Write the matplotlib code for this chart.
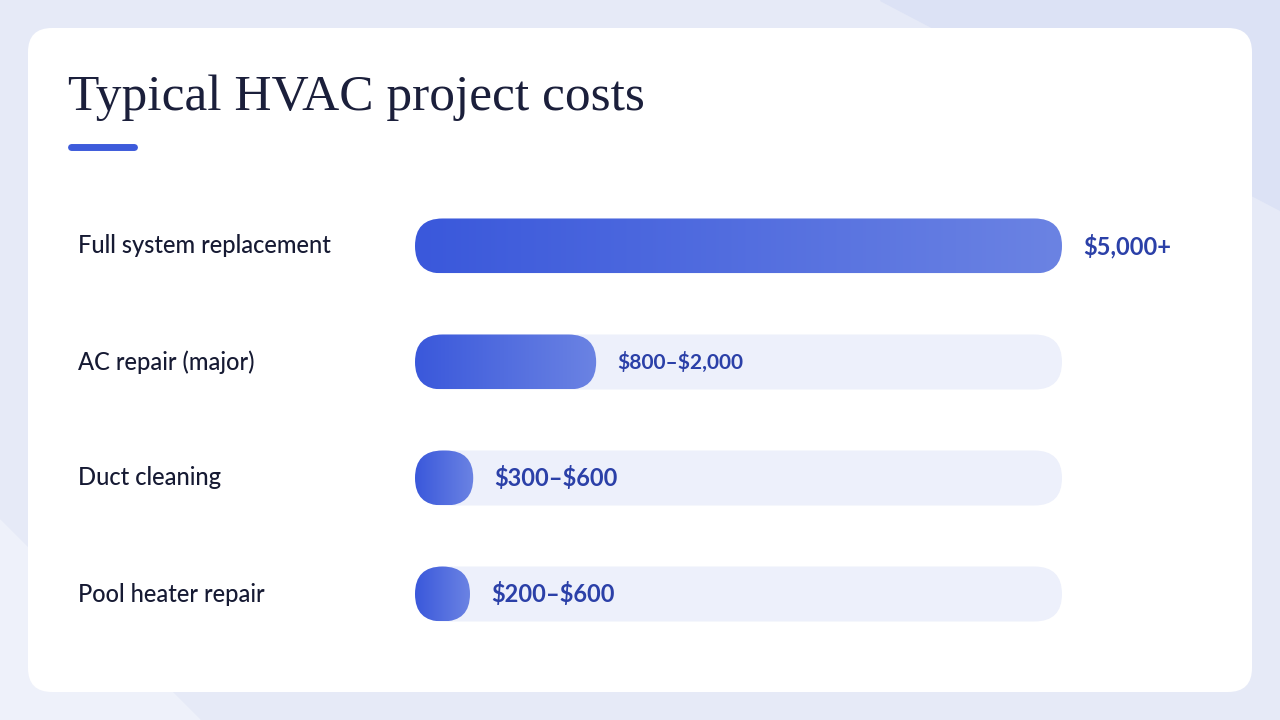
import matplotlib
matplotlib.use("Agg")
import matplotlib.pyplot as plt
import numpy as np
from matplotlib.patches import FancyBboxPatch, Polygon

categories = ["Full system replacement", "AC repair (major)", "Duct cleaning", "Pool heater repair"]
values = [5000, 1400, 450, 420]
value_labels = [r"\$5,000+", r"\$800–\$2,000", r"\$300–\$600", r"\$200–\$600"]
xmax = 5000

W, H = 1280, 720
fig = plt.figure(figsize=(12.8, 7.2), dpi=100)
fig.patch.set_facecolor("#E6EAF7")
bg = fig.add_axes([0, 0, 1, 1])
bg.set_xlim(0, W); bg.set_ylim(H, 0); bg.axis("off")
bg.add_patch(Polygon([[0, 520], [200, 720], [0, 720]], color="#EEF1FA", zorder=0))
bg.add_patch(Polygon([[880, 0], [1280, 0], [1280, 210]], color="#DCE2F5", zorder=0))
bg.add_patch(FancyBboxPatch((28, 28), 1224, 664, boxstyle="round,pad=0,rounding_size=24",
                            fc="white", ec="none", zorder=1))
bg.text(68, 98, "Typical HVAC project costs", fontsize=37, family="Liberation Serif",
        color="#1B1F3B", va="center", ha="left", zorder=3)
bg.plot([71, 134], [147, 147], color="#3D5BDB", lw=5, solid_capstyle="round", zorder=3)

L, R, T, B = 415, 1062, 200, 640
ax = fig.add_axes([L / W, (H - B) / H, (R - L) / W, (B - T) / H])
k = xmax / (R - L)
ax.axis("off")
bh = 55 * k
r = bh / 2
grad = np.linspace(0, 1, 256).reshape(1, -1)
cmap = matplotlib.colors.LinearSegmentedColormap.from_list("g", ["#3A58DB", "#6B83E3"])
for i, (cat, v, lab) in enumerate(zip(categories, values, value_labels)):
    cy = (B - (246 + i * 116)) * k
    track = FancyBboxPatch((r, cy), xmax - 2 * r, 0,
                           boxstyle=f"round,pad={r}", fc="#EDF0FB", ec="none", zorder=1)
    ax.add_patch(track)
    bw = max(v, bh)
    bar = FancyBboxPatch((r, cy), bw - 2 * r, 0,
                         boxstyle=f"round,pad={r}", fc="none", ec="none", zorder=2)
    ax.add_patch(bar)
    im = ax.imshow(grad, cmap=cmap, extent=[0, bw, cy - bh / 2, cy + bh / 2],
                   aspect="auto", zorder=2)
    im.set_clip_path(bar)
    ax.text(-337 * k, cy, cat, fontsize=17, family="Lato", color="#161A33",
            va="center", ha="left", fontweight="medium")
    ax.text(bw + 21 * k, cy, lab, fontsize=15 if i == 1 else 17, family="Lato",
            fontweight="bold", color="#2B40A8", va="center", ha="left")
ax.set_xlim(0, xmax); ax.set_ylim(0, (B - T) * k)
fig.savefig("out.png", dpi=100, facecolor=fig.get_facecolor())
